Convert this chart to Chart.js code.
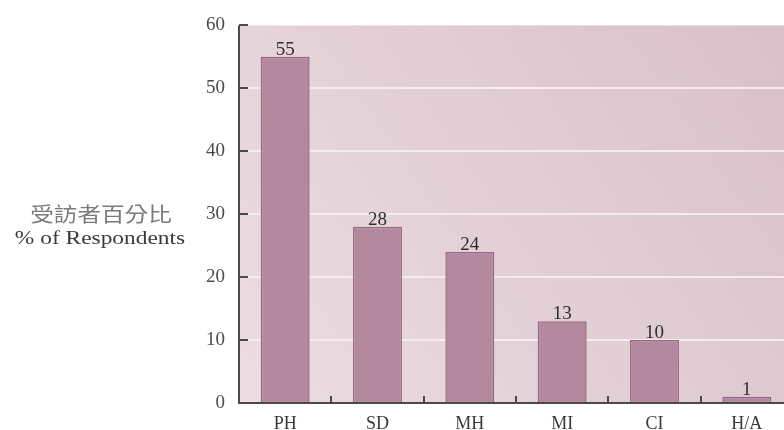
<!DOCTYPE html>
<html>
<head>
<meta charset="utf-8">
<script src="https://cdn.jsdelivr.net/npm/chart.js@4/dist/chart.umd.min.js"></script>
<style>
  html, body { margin: 0; padding: 0; background: #fff; overflow: hidden; }
  #wrap { position: absolute; left: 0; top: 0; width: 800px; height: 430px; }
</style>
</head>
<body>
<div id="wrap"><canvas id="c" width="800" height="430"></canvas></div>
<script>
// Survey results: share of respondents per category
const categories = ['PH', 'SD', 'MH', 'MI', 'CI', 'H/A'];
const percentages = [55, 28, 24, 13, 10, 1];
const yTicks = [0, 10, 20, 30, 40, 50, 60];
const titleZh = '受訪者百分比';
const titleEn = '% of Respondents';

const SERIF = '"Liberation Serif", "DejaVu Serif", serif';

// Plot background: soft pink wash, darker to the right
const backgroundPlugin = {
  id: 'plotBackground',
  beforeDraw(chart) {
    const { ctx, chartArea: a } = chart;
    const g = ctx.createLinearGradient(a.left, a.bottom, a.right, a.top);
    g.addColorStop(0, '#ebdde2');
    g.addColorStop(1, '#d9c0c9');
    ctx.save();
    ctx.fillStyle = g;
    ctx.fillRect(a.left, a.top, a.right - a.left, a.bottom - a.top);
    ctx.restore();
  }
};

// Axis lines with inward tick marks
const axesPlugin = {
  id: 'axesInward',
  afterDatasetsDraw(chart) {
    const { ctx, chartArea: a, scales: { x, y } } = chart;
    ctx.save();
    ctx.strokeStyle = '#4a4a4a';
    ctx.lineWidth = 2;
    ctx.beginPath();
    ctx.moveTo(a.left, a.top);
    ctx.lineTo(a.left, a.bottom);
    ctx.lineTo(a.right, a.bottom);
    ctx.stroke();
    ctx.beginPath();
    yTicks.forEach(v => {
      const py = Math.round(y.getPixelForValue(v));
      ctx.moveTo(a.left, py);
      ctx.lineTo(a.left + 9, py);
    });
    for (let i = 1; i < categories.length; i++) {
      const px = Math.round((x.getPixelForValue(i - 1) + x.getPixelForValue(i)) / 2);
      ctx.moveTo(px, a.bottom);
      ctx.lineTo(px, a.bottom - 7);
    }
    ctx.stroke();
    ctx.restore();
  }
};

// Value labels above bars and the two-line axis caption
const labelsPlugin = {
  id: 'valueLabels',
  afterDraw(chart) {
    const { ctx } = chart;
    const meta = chart.getDatasetMeta(0);
    ctx.save();
    ctx.fillStyle = '#2e2e2e';
    ctx.font = '19px ' + SERIF;
    ctx.textAlign = 'center';
    ctx.textBaseline = 'alphabetic';
    meta.data.forEach((bar, i) => {
      ctx.fillText(String(percentages[i]), bar.x, bar.y - 2);
    });

    // Caption to the left of the value axis
    ctx.textBaseline = 'middle';
    ctx.save();
    ctx.translate(101, 214);
    ctx.scale(1.18, 1);
    ctx.fillStyle = '#7a7a7a';
    ctx.font = '20px "Noto Sans CJK TC", sans-serif';
    ctx.fillText(titleZh, 0, 0);
    ctx.restore();
    ctx.save();
    ctx.translate(100, 239);
    ctx.scale(1.3, 1);
    ctx.fillStyle = '#3a3a3a';
    ctx.font = '18px ' + SERIF;
    ctx.fillText(titleEn, 0, 0);
    ctx.restore();
    ctx.restore();
  }
};

new Chart(document.getElementById('c'), {
  type: 'bar',
  data: {
    labels: categories,
    datasets: [{
      data: percentages,
      backgroundColor: '#b4899e',
      borderColor: '#946a80',
      borderWidth: 1.5,
      barPercentage: 0.53,
      categoryPercentage: 1.0
    }]
  },
  options: {
    responsive: false,
    animation: false,
    layout: { padding: { top: 21, right: 7, left: 0, bottom: 0 } },
    plugins: { legend: { display: false }, tooltip: { enabled: false } },
    scales: {
      x: {
        grid: { display: false, drawTicks: false },
        border: { display: false },
        ticks: { color: '#3a3a3a', font: { family: SERIF, size: 18 }, padding: 10 },
        afterFit(s) { s.height = 27; }
      },
      y: {
        min: 0, max: 60,
        afterBuildTicks(s) { s.ticks = yTicks.map(v => ({ value: v })); },
        grid: {
          color: ctx => (ctx.tick.value === 0 || ctx.tick.value === 60) ? 'rgba(0,0,0,0)' : '#f6ebef',
          lineWidth: 2,
          drawTicks: false
        },
        border: { display: false },
        ticks: { color: '#4a4a4a', font: { family: SERIF, size: 19 }, padding: 14 },
        afterFit(s) { s.width = 239; }
      }
    }
  },
  plugins: [backgroundPlugin, axesPlugin, labelsPlugin]
});
</script>
</body>
</html>
